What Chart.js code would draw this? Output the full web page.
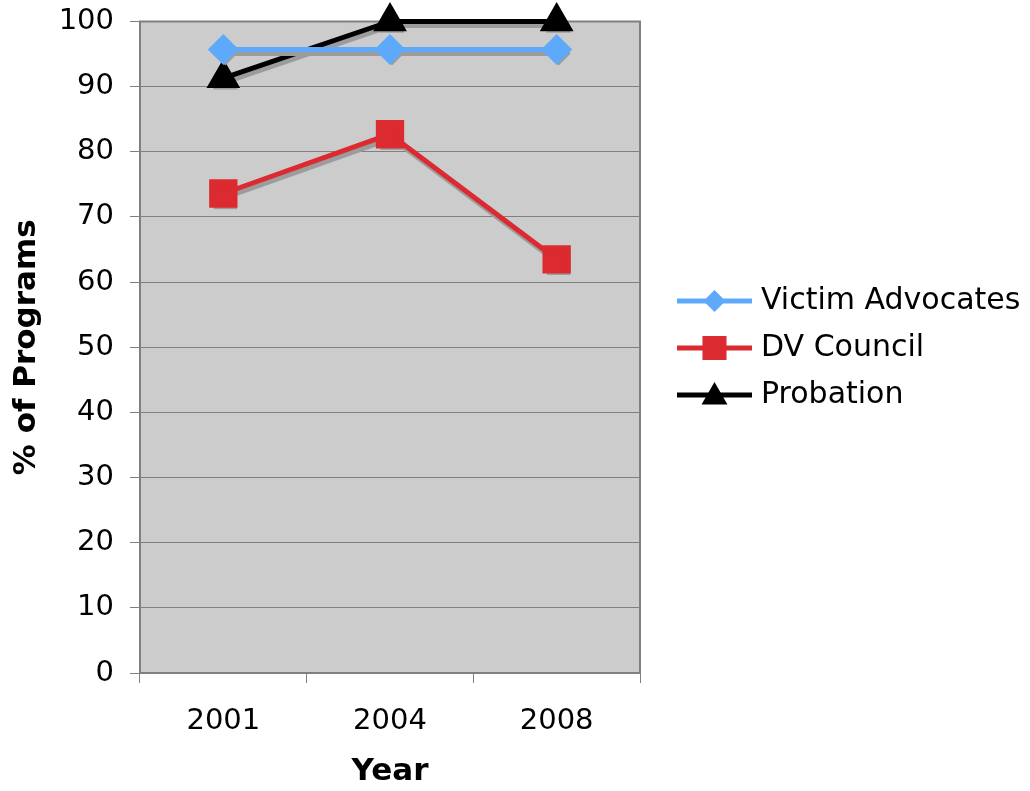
<!DOCTYPE html>
<html>
<head>
<meta charset="utf-8">
<script src="https://cdn.jsdelivr.net/npm/chart.js@4.4.1/dist/chart.umd.min.js"></script>
<style>
  body { margin: 0; background: #fff; }
  canvas { display: block; }
</style>
</head>
<body>
<canvas id="lineChart" width="1030" height="791"></canvas>
<script>
const years = ['2001', '2004', '2008'];
const victimAdvocates = [95.7, 95.7, 95.7];
const dvCouncil = [73.6, 82.7, 63.5];
const probation = [91.3, 100, 100];
const yTicks = [0, 10, 20, 30, 40, 50, 60, 70, 80, 90, 100];

Chart.defaults.font.family = 'DejaVu Sans';
Chart.defaults.color = '#000';

// grey plot area, drop shadows and the side legend
const plotStyle = {
    id: 'plotStyle',
    beforeDraw(chart) {
        const { ctx, chartArea: a } = chart;
        ctx.save();
        ctx.fillStyle = '#cccccc';
        ctx.fillRect(a.left, a.top, a.right - a.left, a.bottom - a.top);
        ctx.restore();
    },
    beforeDatasetsDraw(chart) {
        const { ctx, chartArea: a } = chart;
        ctx.save();
        ctx.strokeStyle = '#808080';
        ctx.lineWidth = 2;
        ctx.strokeRect(a.left, a.top, a.right - a.left, a.bottom - a.top);
        ctx.restore();
    },
    beforeDatasetDraw(chart, args) {
        // grey copy of the series, shifted down-right
        const ctx = chart.ctx;
        const pts = args.meta.data;
        const ds = chart.data.datasets[args.index];
        const shade = '#9c9c9c';
        ctx.save();
        ctx.translate(2, 4);
        ctx.strokeStyle = shade;
        ctx.fillStyle = shade;
        ctx.lineWidth = ds.borderWidth;
        ctx.lineJoin = 'round';
        ctx.beginPath();
        pts.forEach((p, i) => i ? ctx.lineTo(p.x, p.y) : ctx.moveTo(p.x, p.y));
        ctx.stroke();
        pts.forEach(p => {
            Chart.helpers.drawPoint(ctx, {
                pointStyle: ds.pointStyle,
                radius: ds.pointRadius,
                rotation: 0,
                borderWidth: 0
            }, p.x, p.y);
        });
        ctx.restore();
    },
    afterDraw(chart) {
        const ctx = chart.ctx;
        const x0 = 677, x1 = 752, rowY = [301, 348, 395];
        ctx.save();
        chart.data.datasets.forEach((ds, i) => {
            const y = rowY[i];
            ctx.strokeStyle = ds.borderColor;
            ctx.lineWidth = 5;
            ctx.beginPath();
            ctx.moveTo(x0, y);
            ctx.lineTo(x1, y);
            ctx.stroke();
            ctx.fillStyle = ds.backgroundColor;
            Chart.helpers.drawPoint(ctx, {
                pointStyle: ds.pointStyle,
                radius: ds.legendRadius,
                rotation: 0,
                borderWidth: 0
            }, (x0 + x1) / 2, y + (ds.pointStyle === 'triangle' ? 2 : 0));
            ctx.fillStyle = '#000';
            ctx.font = '30px "DejaVu Sans"';
            ctx.textBaseline = 'middle';
            ctx.fillText(ds.label, 761, y);
        });
        ctx.restore();
    }
};

new Chart(document.getElementById('lineChart'), {
    type: 'line',
    data: {
        labels: years,
        datasets: [{
            label: 'Victim Advocates',
            data: victimAdvocates,
            borderColor: '#5fa9fb',
            backgroundColor: '#5fa9fb',
            borderWidth: 5,
            pointStyle: 'rectRot',
            pointRadius: 12,
            legendRadius: 11,
            clip: false
        }, {
            label: 'DV Council',
            data: dvCouncil,
            borderColor: '#dc2a31',
            backgroundColor: '#dc2a31',
            borderWidth: 5,
            pointStyle: 'rect',
            pointRadius: 16.5,
            legendRadius: 17,
            clip: false
        }, {
            label: 'Probation',
            data: probation,
            borderColor: '#000000',
            backgroundColor: '#000000',
            borderWidth: 5,
            pointStyle: 'triangle',
            pointRadius: 14.5,
            legendRadius: 15,
            clip: false
        }]
    },
    options: {
        responsive: false,
        animation: false,
        layout: { padding: { top: 20, right: 390, left: 0, bottom: 0 } },
        elements: {
            line: { tension: 0, borderJoinStyle: 'round' },
            point: { borderWidth: 0, hoverRadius: 12 }
        },
        plugins: {
            legend: { display: false },
            tooltip: { enabled: false }
        },
        scales: {
            x: {
                offset: true,
                grid: {
                    offset: true,
                    drawOnChartArea: false,
                    drawTicks: true,
                    tickLength: 10,
                    color: '#808080'
                },
                border: { display: false },
                ticks: { font: { size: 29 }, padding: 21 },
                title: {
                    display: true,
                    text: 'Year',
                    font: { size: 31, weight: 'bold' },
                    padding: { top: 4, bottom: 0 }
                },
                afterFit(scale) { scale.height = 118; }
            },
            y: {
                min: 0,
                max: 100,
                afterBuildTicks(scale) { scale.ticks = yTicks.map(v => ({ value: v })); },
                grid: { color: '#808080', lineWidth: 1, tickLength: 10 },
                border: { display: false },
                ticks: { font: { size: 29, lineHeight: 0.25 }, padding: 16 },
                title: {
                    display: true,
                    text: '% of Programs',
                    font: { size: 31, weight: 'bold' },
                    padding: { top: 8, bottom: 2 }
                },
                afterFit(scale) { scale.width = 140; }
            }
        }
    },
    plugins: [plotStyle]
});
</script>
</body>
</html>
